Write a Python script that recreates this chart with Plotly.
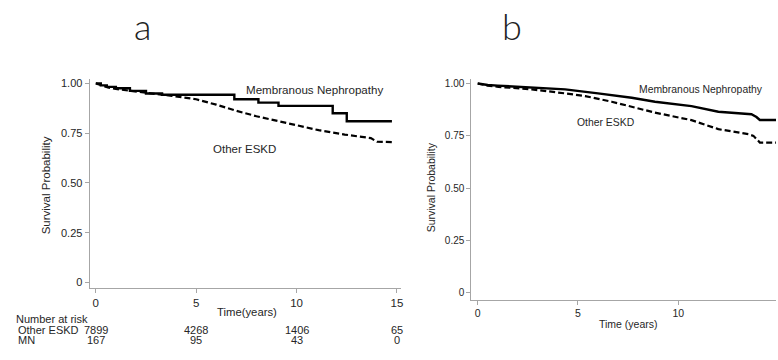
import plotly.graph_objects as go

# ---------------- data ----------------
# Panel a (Kaplan-Meier, step curves)
a_mn_time = [0, 0.25, 0.55, 1.0, 1.7, 2.5, 3.3, 6.9, 8.1, 9.1, 11.8, 12.5, 14.75]
a_mn_surv = [1.0, 0.99, 0.982, 0.975, 0.962, 0.949, 0.943, 0.92, 0.903, 0.887, 0.85, 0.81, 0.81]
a_eskd_time = [0, 0.3, 0.6, 1.0, 1.7, 2.5, 3.0, 3.8, 5.0, 6.0, 6.9, 8.0, 9.0, 9.9, 11.1, 12.4, 13.4, 13.7, 14.0, 14.75]
a_eskd_surv = [1.0, 0.988, 0.979, 0.972, 0.962, 0.952, 0.946, 0.937, 0.92, 0.893, 0.865, 0.835, 0.812, 0.79, 0.765, 0.743, 0.73, 0.725, 0.707, 0.705]

# Panel b
b_mn_time = [0, 0.5, 1.0, 2.7, 4.36, 6.0, 7.68, 8.84, 10.66, 12.0, 13.0, 13.65, 13.9, 14.07, 16.0]
b_mn_surv = [1.0, 0.993, 0.99, 0.981, 0.972, 0.953, 0.932, 0.913, 0.892, 0.865, 0.856, 0.853, 0.84, 0.826, 0.826]
b_eskd_time = [0, 0.5, 1.04, 2.7, 4.36, 5.36, 6.68, 7.68, 8.84, 10.66, 12.0, 13.5, 13.75, 13.95, 14.07, 16.0]
b_eskd_surv = [1.0, 0.99, 0.984, 0.972, 0.953, 0.94, 0.913, 0.888, 0.861, 0.825, 0.782, 0.758, 0.75, 0.73, 0.718, 0.718]

y_tick_vals = [0, 0.25, 0.5, 0.75, 1.0]
y_tick_text = ["0", "0.25", "0.50", "0.75", "1.00"]
x_tick_vals = [0, 5, 10, 15]
x_tick_text = ["0", "5", "10", "15"]

risk_times = [0, 5, 10, 15]
risk_eskd = [7899, 4268, 1406, 65]
risk_mn = [167, 95, 43, 0]

W, H = 778, 360
TXT = "#262626"
AX = "#a6a6a6"
FONT = "Liberation Sans, Arial, sans-serif"


def px(x):
    return x / W


def py(y):
    return 1 - y / H


fig = go.Figure()

# panel a
fig.add_trace(go.Scatter(x=a_eskd_time, y=a_eskd_surv, mode="lines", line=dict(color="black", width=2.2, dash="6px,3px"),
                         xaxis="x", yaxis="y", showlegend=False, hoverinfo="skip"))
fig.add_trace(go.Scatter(x=a_mn_time, y=a_mn_surv, mode="lines", line=dict(color="black", width=2.4, shape="hv"),
                         xaxis="x", yaxis="y", showlegend=False, hoverinfo="skip"))
# panel b
fig.add_trace(go.Scatter(x=b_eskd_time, y=b_eskd_surv, mode="lines", line=dict(color="black", width=2.2, dash="6px,3px"),
                         xaxis="x2", yaxis="y2", showlegend=False, hoverinfo="skip"))
fig.add_trace(go.Scatter(x=b_mn_time, y=b_mn_surv, mode="lines", line=dict(color="black", width=2.4),
                         xaxis="x2", yaxis="y2", showlegend=False, hoverinfo="skip"))

common_ax = dict(showgrid=False, zeroline=False, showline=True, linecolor=AX, linewidth=1.3,
                 ticks="outside", ticklen=4, tickcolor=AX, tickwidth=1)

fig.update_layout(
    width=W, height=H, margin=dict(l=0, r=0, t=0, b=0),
    paper_bgcolor="white", plot_bgcolor="white",
    font=dict(family=FONT, color=TXT),
    xaxis=dict(domain=[px(90), px(402)], range=[-0.3, 15.2], anchor="y",
               tickvals=x_tick_vals, ticktext=x_tick_text, tickfont=dict(size=11.5, color=TXT), **common_ax),
    yaxis=dict(domain=[py(288), py(78)], range=[-0.025, 1.02], anchor="x",
               tickvals=y_tick_vals, ticktext=y_tick_text, tickfont=dict(size=11, color=TXT), **common_ax),
    xaxis2=dict(domain=[px(472.7), 1.0], range=[-0.31, 14.875], anchor="y2",
                tickvals=x_tick_vals, ticktext=x_tick_text, tickfont=dict(size=10.5, color=TXT), **common_ax),
    yaxis2=dict(domain=[py(300), py(78)], range=[-0.032, 1.02], anchor="x2",
                tickvals=y_tick_vals, ticktext=y_tick_text, tickfont=dict(size=10, color=TXT), **common_ax),
)

ann = []
# panel letters
ann.append(dict(text="a", x=px(143), y=py(0.5), xref="paper", yref="paper", showarrow=False,
                font=dict(size=36, family="Lato, Open Sans, sans-serif", weight=300, color="#222"),
                xanchor="center", yanchor="top"))
ann.append(dict(text="b", x=px(513), y=py(0.5), xref="paper", yref="paper", showarrow=False,
                font=dict(size=36, family="Lato, Open Sans, sans-serif", weight=300, color="#222"),
                xanchor="center", yanchor="top"))
# curve labels a
ann.append(dict(text="Membranous Nephropathy", x=px(315), y=py(88), xref="paper", yref="paper", showarrow=False,
                font=dict(size=11.6, color=TXT), xanchor="center", yanchor="middle"))
ann.append(dict(text="Other ESKD", x=px(245), y=py(148), xref="paper", yref="paper", showarrow=False,
                font=dict(size=11.5, color=TXT), xanchor="center", yanchor="middle"))
# curve labels b
ann.append(dict(text="Membranous Nephropathy", x=px(703), y=py(88), xref="paper", yref="paper", showarrow=False,
                font=dict(size=10.4, color=TXT), xanchor="center", yanchor="middle"))
ann.append(dict(text="Other ESKD", x=px(607), y=py(121.7), xref="paper", yref="paper", showarrow=False,
                font=dict(size=10.4, color=TXT), xanchor="center", yanchor="middle"))
# axis titles
ann.append(dict(text="Survival Probability", x=px(47), y=py(185), xref="paper", yref="paper", showarrow=False,
                textangle=-90, font=dict(size=11.5, color=TXT), xanchor="center", yanchor="middle"))
ann.append(dict(text="Survival Probability", x=px(433), y=py(187), xref="paper", yref="paper", showarrow=False,
                textangle=-90, font=dict(size=10.5, color=TXT), xanchor="center", yanchor="middle"))
ann.append(dict(text="Time(years)", x=px(248), y=py(313), xref="paper", yref="paper", showarrow=False,
                font=dict(size=11.3, color=TXT), xanchor="center", yanchor="middle"))
ann.append(dict(text="Time (years)", x=px(630), y=py(325), xref="paper", yref="paper", showarrow=False,
                font=dict(size=10.5, color=TXT), xanchor="center", yanchor="middle"))
# partial "15" tick label of panel b (cut by the image edge)
ann.append(dict(text="15", x=15, y=py(310.7), xref="x2", yref="paper", showarrow=False,
                font=dict(size=10.5, color=TXT), xanchor="center", yanchor="middle"))
# number at risk table
ann.append(dict(text="Number at risk", x=px(14), y=py(320), xref="paper", yref="paper", showarrow=False,
                font=dict(size=11, color=TXT), xanchor="left", yanchor="middle"))
ann.append(dict(text="Other ESKD", x=px(16), y=py(331), xref="paper", yref="paper", showarrow=False,
                font=dict(size=11, color=TXT), xanchor="left", yanchor="middle"))
ann.append(dict(text="MN", x=px(16), y=py(341), xref="paper", yref="paper", showarrow=False,
                font=dict(size=11, color=TXT), xanchor="left", yanchor="middle"))
for t, v in zip(risk_times, risk_eskd):
    ann.append(dict(text=str(v), x=t, y=py(331), xref="x", yref="paper", showarrow=False,
                    font=dict(size=11, color=TXT), xanchor="center", yanchor="middle"))
for t, v in zip(risk_times, risk_mn):
    ann.append(dict(text=str(v), x=t, y=py(341), xref="x", yref="paper", showarrow=False,
                    font=dict(size=11, color=TXT), xanchor="center", yanchor="middle"))

fig.update_layout(annotations=ann)
fig.write_html("out.html", config={"displayModeBar": False},
               post_script="document.body.style.margin='0';document.body.style.overflow='hidden';")
